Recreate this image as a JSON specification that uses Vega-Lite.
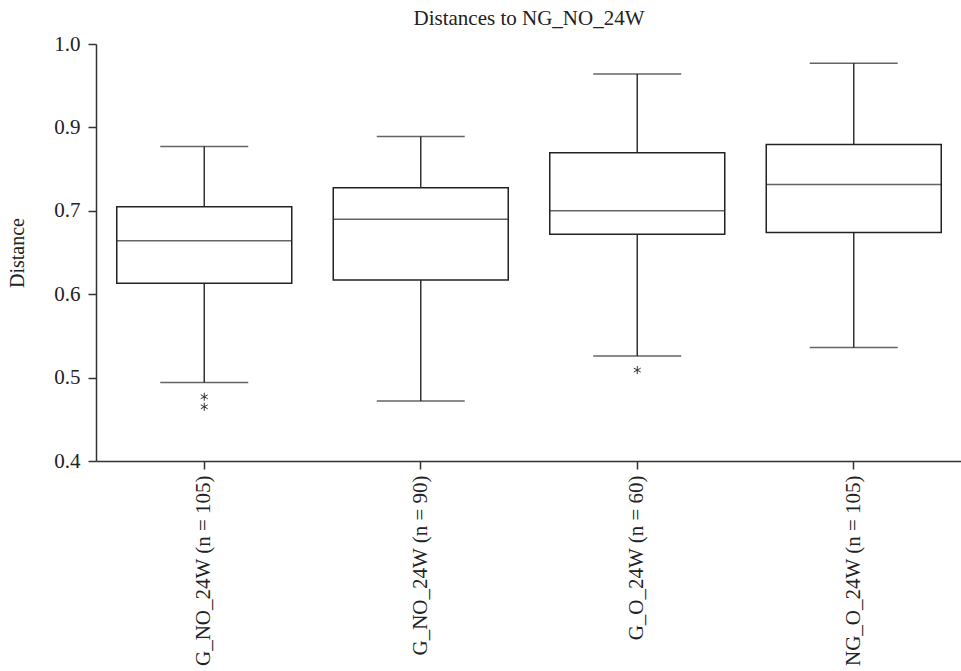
{
  "$schema": "https://vega.github.io/schema/vega-lite/v6.json",
  "width": 866,
  "height": 417,
  "autosize": "none",
  "padding": {"left": 96, "top": 44, "right": 0, "bottom": 210},
  "config": {
    "font": "Liberation Serif",
    "view": {"stroke": null},
    "axis": {"domainColor": "#333", "tickColor": "#333", "domainWidth": 1.5, "tickWidth": 1.5, "labelColor": "#222", "titleColor": "#222", "grid": false, "labelFont": "Liberation Serif", "titleFont": "Liberation Serif", "titleFontWeight": "normal"}
  },
  "title": {"text": "Distances to NG_NO_24W", "fontSize": 21, "fontWeight": "normal", "font": "Liberation Serif", "color": "#222", "offset": 4, "anchor": "middle"},
  "datasets": {
    "stats": [
      {"group": "G_NO_24W (n = 105)", "lower": 0.494, "q1": 0.613, "median": 0.664, "q3": 0.710, "upper": 0.854},
      {"group": "G_NO_24W (n = 90)", "lower": 0.472, "q1": 0.617, "median": 0.690, "q3": 0.755, "upper": 0.878},
      {"group": "G_O_24W (n = 60)", "lower": 0.526, "q1": 0.672, "median": 0.700, "q3": 0.839, "upper": 0.964},
      {"group": "NG_O_24W (n = 105)", "lower": 0.536, "q1": 0.674, "median": 0.763, "q3": 0.859, "upper": 0.977}
    ],
    "outliers": [
      {"group": "G_NO_24W (n = 105)", "value": 0.477},
      {"group": "G_NO_24W (n = 105)", "value": 0.465},
      {"group": "G_O_24W (n = 60)", "value": 0.509}
    ]
  },
  "data": {"name": "stats"},
  "encoding": {
    "x": {
      "field": "group", "type": "nominal", "sort": null,
      "scale": {"paddingInner": 0, "paddingOuter": 0},
      "axis": {"title": null, "labelAngle": -90, "labelFontSize": 21, "tickSize": 8, "labelPadding": 6, "labelLimit": 400}
    }
  },
  "layer": [
    {
      "mark": {"type": "rule", "color": "#333", "strokeWidth": 1.5},
      "encoding": {
        "y": {
          "field": "lower", "type": "quantitative",
          "scale": {"domain": [0.4, 0.7, 0.9, 1.0], "range": [417, 166.8, 83.4, 0], "zero": false, "nice": false},
          "axis": {"title": "Distance", "titleFontSize": 20, "titlePadding": 26, "labelFontSize": 21, "values": [0.4, 0.5, 0.6, 0.7, 0.9, 1.0], "format": ".1f", "tickSize": 8, "labelPadding": 8}
        },
        "y2": {"field": "upper"}
      }
    },
    {
      "mark": {"type": "bar", "fill": "white", "stroke": "#222", "strokeWidth": 1.5, "size": 175},
      "encoding": {
        "y": {"field": "q1", "type": "quantitative"},
        "y2": {"field": "q3"}
      }
    },
    {
      "mark": {"type": "tick", "color": "#222", "thickness": 1.5, "size": 175},
      "encoding": {"y": {"field": "median", "type": "quantitative"}}
    },
    {
      "mark": {"type": "tick", "color": "#222", "thickness": 1.5, "size": 88},
      "encoding": {"y": {"field": "lower", "type": "quantitative"}}
    },
    {
      "mark": {"type": "tick", "color": "#222", "thickness": 1.5, "size": 88},
      "encoding": {"y": {"field": "upper", "type": "quantitative"}}
    },
    {
      "data": {"name": "outliers"},
      "mark": {"type": "point", "shape": "M0,-1L0,1M-0.87,-0.5L0.87,0.5M-0.87,0.5L0.87,-0.5", "filled": false, "stroke": "#333", "strokeWidth": 1, "size": 64, "opacity": 1},
      "encoding": {"y": {"field": "value", "type": "quantitative"}}
    }
  ]
}
